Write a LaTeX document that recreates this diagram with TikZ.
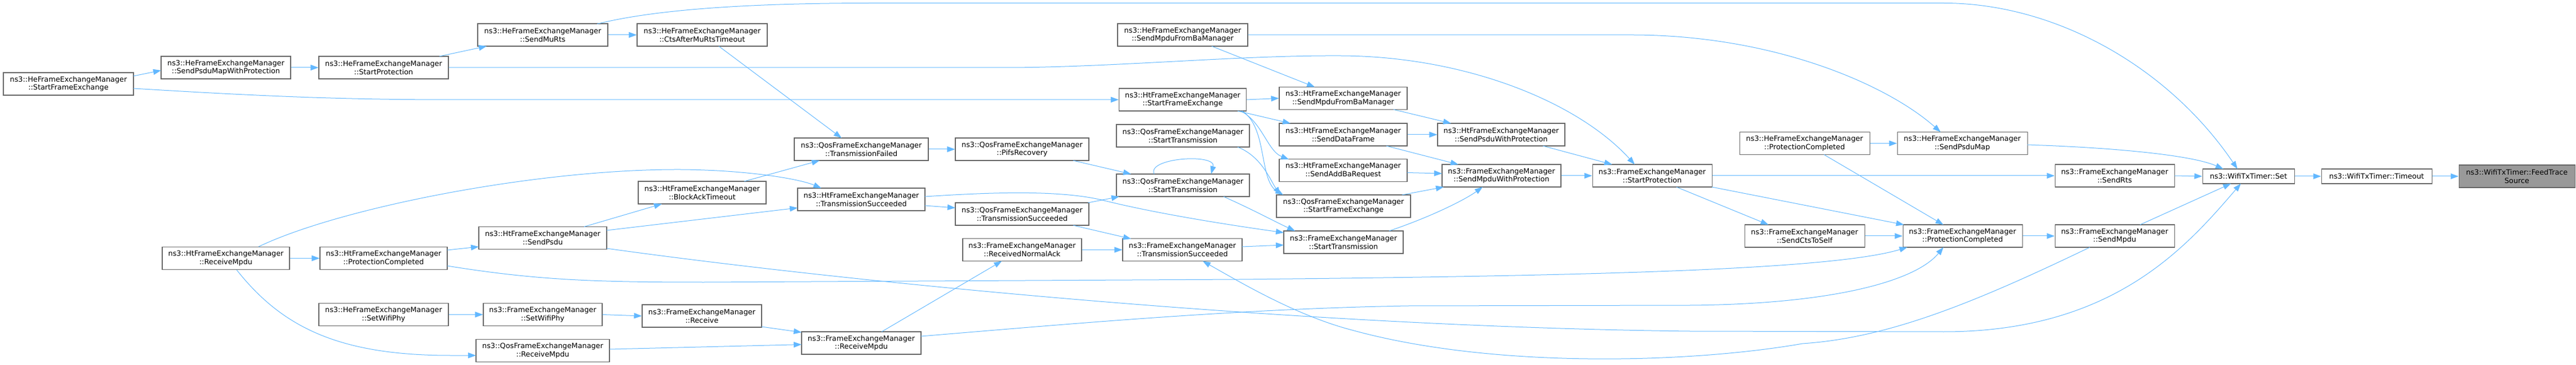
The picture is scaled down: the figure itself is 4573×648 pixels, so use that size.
\documentclass[tikz,border=0pt]{standalone}
\usepackage{fontspec}
\setmainfont{DejaVu Sans}
\usetikzlibrary{arrows.meta,calc}
\definecolor{edgec}{HTML}{63B8FF}
\definecolor{boxc}{HTML}{666666}
\definecolor{hic}{HTML}{999999}
\tikzset{
  box/.style={draw=boxc, fill=white, line width=0.8pt, inner sep=1pt,
    minimum height=30pt, align=center, font=\fontsize{9.6pt}{11.2pt}\selectfont},
  one/.style={minimum height=19.5pt},
  bw/.style={minimum width=#1*0.75pt},
  e/.style={draw=edgec, line width=0.75pt, -{Triangle[length=10.5pt,width=7.5pt]}},
}
\begin{document}
\begin{tikzpicture}[x=0.75pt,y=-0.75pt]
\useasboundingbox (0,0) rectangle (4573,648);
% nodes
\node[box,bw=231] (heSFE) at (121.5,149) {ns3::HeFrameExchangeManager\\::StartFrameExchange};
\node[box,bw=230] (heSPMWP) at (401,120) {ns3::HeFrameExchangeManager\\::SendPsduMapWithProtection};
\node[box,bw=226] (htRM) at (401,458.5) {ns3::HtFrameExchangeManager\\::ReceiveMpdu};
\node[box,bw=230] (heSP) at (681,120) {ns3::HeFrameExchangeManager\\::StartProtection};
\node[box,bw=226] (htPC) at (681,458.5) {ns3::HtFrameExchangeManager\\::ProtectionCompleted};
\node[box,bw=230] (heSWP) at (681,558.5) {ns3::HeFrameExchangeManager\\::SetWifiPhy};
\node[box,bw=231] (heSMR) at (963.5,62) {ns3::HeFrameExchangeManager\\::SendMuRts};
\node[box,bw=227] (htSP) at (963.5,422.5) {ns3::HtFrameExchangeManager\\::SendPsdu};
\node[box,bw=211] (femSWP) at (963.5,558.5) {ns3::FrameExchangeManager\\::SetWifiPhy};
\node[box,bw=237] (qosRM) at (963.5,622.5) {ns3::QosFrameExchangeManager\\::ReceiveMpdu};
\node[box,bw=231] (heCAMRT) at (1246.5,62) {ns3::HeFrameExchangeManager\\::CtsAfterMuRtsTimeout};
\node[box,bw=227] (htBAT) at (1246.5,342) {ns3::HtFrameExchangeManager\\::BlockAckTimeout};
\node[box,bw=212] (femR) at (1246,561) {ns3::FrameExchangeManager\\::Receive};
\node[box,bw=238] (qosTF) at (1529,265) {ns3::QosFrameExchangeManager\\::TransmissionFailed};
\node[box,bw=226] (htTS) at (1529,354) {ns3::HtFrameExchangeManager\\::TransmissionSucceeded};
\node[box,bw=212] (femRM) at (1529,609) {ns3::FrameExchangeManager\\::ReceiveMpdu};
\node[box,bw=237] (qosPR) at (1814.5,265) {ns3::QosFrameExchangeManager\\::PifsRecovery};
\node[box,bw=237] (qosTS) at (1814.5,380) {ns3::QosFrameExchangeManager\\::TransmissionSucceeded};
\node[box,bw=211] (femRNA) at (1814.5,443.5) {ns3::FrameExchangeManager\\::ReceivedNormalAck};
\node[box,bw=231] (heSMFBM) at (2099.5,62) {ns3::HeFrameExchangeManager\\::SendMpduFromBaManager};
\node[box,bw=226] (htSFE) at (2099.5,177) {ns3::HtFrameExchangeManager\\::StartFrameExchange};
\node[box,bw=236] (qosST1) at (2100,241) {ns3::QosFrameExchangeManager\\::StartTransmission};
\node[box,bw=236] (qosST2) at (2100,329) {ns3::QosFrameExchangeManager\\::StartTransmission};
\node[box,bw=212] (femTS) at (2099,443.5) {ns3::FrameExchangeManager\\::TransmissionSucceeded};
\node[box,bw=227] (htSMFBM) at (2384.5,174.5) {ns3::HtFrameExchangeManager\\::SendMpduFromBaManager};
\node[box,bw=227] (htSDF) at (2384.5,239) {ns3::HtFrameExchangeManager\\::SendDataFrame};
\node[box,bw=227] (htSABR) at (2384.5,302.5) {ns3::HtFrameExchangeManager\\::SendAddBaRequest};
\node[box,bw=238] (qosSFE) at (2385,366) {ns3::QosFrameExchangeManager\\::StartFrameExchange};
\node[box,bw=212] (femST) at (2385,430) {ns3::FrameExchangeManager\\::StartTransmission};
\node[box,bw=226] (htSPWP) at (2665,239) {ns3::HtFrameExchangeManager\\::SendPsduWithProtection};
\node[box,bw=211] (femSMWP) at (2665.5,312) {ns3::FrameExchangeManager\\::SendMpduWithProtection};
\node[box,bw=212] (femSP) at (2933,312) {ns3::FrameExchangeManager\\::StartProtection};
\node[box,bw=231] (hePC) at (3203.5,254.5) {ns3::HeFrameExchangeManager\\::ProtectionCompleted};
\node[box,bw=213] (femSCTS) at (3203.5,419) {ns3::FrameExchangeManager\\::SendCtsToSelf};
\node[box,bw=231] (heSPM) at (3483.5,254.5) {ns3::HeFrameExchangeManager\\::SendPsduMap};
\node[box,bw=212] (femPC) at (3484,419) {ns3::FrameExchangeManager\\::ProtectionCompleted};
\node[box,bw=212] (femSR) at (3754,312) {ns3::FrameExchangeManager\\::SendRts};
\node[box,bw=212] (femSM) at (3754,419) {ns3::FrameExchangeManager\\::SendMpdu};
\node[box,one,bw=163] (set) at (3991.5,313) {ns3::WifiTxTimer::Set};
\node[box,one,bw=196] (tmo) at (4219,313) {ns3::WifiTxTimer::Timeout};
\node[box,bw=206,fill=hic] (feed) at (4468,313) {ns3::WifiTxTimer::FeedTrace\\Source};
% edges
\draw[e] ([shift={(115.5,-14)}]heSFE.center) -- ([shift={(-115,5)}]heSPMWP.center);
\draw[e] ([shift={(115.5,8)}]heSFE.center) .. controls (450,170) and (600,177) .. (800,177) -- (htSFE.west);
\draw[e] (heSPMWP.east) -- (heSP.west);
\draw[e] ([shift={(99,-20)}]heSP.center) -- ([shift={(-99.5,20)}]heSMR.center);
\draw[e] (heSP.east) -- (1800,120) .. controls (2000,118) and (2200,98) .. (2380,99) .. controls (2600,100) and (2800,180) .. ([shift={(-31,-20)}]femSP.center);
\draw[e] (heSMR.east) -- (heCAMRT.west);
\draw[e] ([shift={(96.5,-19.5)}]heSMR.center) .. controls (1150,20) and (1300,5.5) .. (1550,5.5) -- (3450,5.5) .. controls (3650,5.5) and (3850,120) .. ([shift={(-19.5,-13)}]set.center);
\draw[e] ([shift={(29.5,20)}]heCAMRT.center) -- ([shift={(-35,-20)}]qosTF.center);
\draw[e] ([shift={(74.5,-20)}]htBAT.center) -- ([shift={(-74,20)}]qosTF.center);
\draw[e] ([shift={(73.5,-20)}]htSP.center) -- ([shift={(-71.5,20)}]htBAT.center);
\draw[e] ([shift={(113.5,-13.5)}]htSP.center) -- ([shift={(-113,15)}]htTS.center);
\draw[e] ([shift={(113.5,18.5)}]htSP.center) .. controls (1500,500) and (2300,580) .. (3000,588) -- (3450,589) .. controls (3750,589) and (3880,440) .. ([shift={(-13.5,13)}]set.center);
\draw[e] (htRM.east) -- (htPC.west);
\draw[e] ([shift={(58,-20.5)}]htRM.center) .. controls (600,370) and (950,300) .. (1208,301) .. controls (1330,302) and (1420,318) .. ([shift={(-71,-20)}]htTS.center);
\draw[e] ([shift={(19,20.5)}]htRM.center) .. controls (500,580) and (600,631) .. (800,631) -- ([shift={(-118.5,8.5)}]qosRM.center);
\draw[e] ([shift={(113,-14.5)}]htPC.center) -- ([shift={(-113.5,15.5)}]htSP.center);
\draw[e] ([shift={(113,13.5)}]htPC.center) .. controls (950,497) and (1050,501) .. (1250,501) -- (2200,496) .. controls (2800,490) and (3250,480) .. ([shift={(-98,20)}]femPC.center);
\draw[e] (heSWP.east) -- (femSWP.west);
\draw[e] (femSWP.east) -- (femR.west);
\draw[e] ([shift={(106,19)}]femR.center) -- ([shift={(-106,-19)}]femRM.center);
\draw[e] ([shift={(118.5,-2.5)}]qosRM.center) -- ([shift={(-106,2.6)}]femRM.center);
\draw[e] ([shift={(36,-20)}]femRM.center) -- ([shift={(-36,20)}]femRNA.center);
\draw[e] ([shift={(106,-12)}]femRM.center) .. controls (1900,575) and (2200,548) .. (2500,543) -- (3000,542) .. controls (3250,540) and (3400,500) .. ([shift={(-34,20)}]femPC.center);
\draw[e] (qosTF.east) -- (qosPR.west);
\draw[e] ([shift={(113,11)}]htTS.center) -- ([shift={(-118.5,-11)}]qosTS.center);
\draw[e] ([shift={(113,-5)}]htTS.center) .. controls (1750,342) and (1880,336) .. (1960,356) .. controls (2060,381) and (2200,402) .. ([shift={(-106,-17)}]femST.center);
\draw[e] ([shift={(90.5,20)}]qosPR.center) -- ([shift={(-92,-20)}]qosST2.center);
\draw[e] ([shift={(117,-20)}]qosTS.center) -- ([shift={(-113,20)}]qosST2.center);
\draw[e] ([shift={(90.5,20)}]qosTS.center) -- ([shift={(-91,-19.5)}]femTS.center);
\draw[e] (femRNA.east) -- (femTS.west);
\draw[e] ([shift={(-51,-20)}]qosST2.center) .. controls (2035,280) and (2160,272) .. ([shift={(50,-20)}]qosST2.center);
\draw[e] ([shift={(72,20)}]qosST2.center) .. controls (2230,375) and (2260,392) .. ([shift={(-86,-20)}]femST.center);
\draw[e] ([shift={(106,-5.5)}]femTS.center) -- ([shift={(-106,5)}]femST.center);
\draw[e] ([shift={(97,20)}]qosST1.center) .. controls (2240,278) and (2255,320) .. ([shift={(-112,-20)}]qosSFE.center);
\draw[e] (htSFE.east) -- (htSMFBM.west);
\draw[e] ([shift={(97.5,20)}]htSFE.center) -- ([shift={(-93.5,-20)}]htSDF.center);
\draw[e] ([shift={(102.5,20)}]htSFE.center) .. controls (2240,215) and (2250,268) .. ([shift={(-96.5,-19.5)}]htSABR.center);
\draw[e] ([shift={(105.5,20)}]htSFE.center) .. controls (2250,225) and (2235,320) .. ([shift={(-107,-20)}]qosSFE.center);
\draw[e] ([shift={(51.5,20)}]heSMFBM.center) -- ([shift={(-50.5,-20)}]htSMFBM.center);
\draw[e] (heSMFBM.east) -- (2900,62) .. controls (3150,63) and (3350,150) .. ([shift={(-38.5,-20)}]heSPM.center);
\draw[e] ([shift={(89.5,20)}]htSMFBM.center) -- ([shift={(-89,-20)}]htSPWP.center);
\draw[e] (htSDF.east) -- (htSPWP.west);
\draw[e] ([shift={(76.5,20)}]htSDF.center) -- ([shift={(-76.5,-20)}]femSMWP.center);
\draw[e] ([shift={(113.5,4)}]htSABR.center) -- ([shift={(-105.5,-4)}]femSMWP.center);
\draw[e] ([shift={(104,-20)}]qosSFE.center) -- ([shift={(-102.5,20)}]femSMWP.center);
\draw[e] ([shift={(81,-20)}]femST.center) .. controls (2540,385) and (2600,355) .. ([shift={(-33.5,20)}]femSMWP.center);
\draw[e] ([shift={(74,20)}]htSPWP.center) -- ([shift={(-71,-20)}]femSP.center);
\draw[e] (femSMWP.east) -- (femSP.west);
\draw[e] (femSP.east) -- (femSR.west);
\draw[e] ([shift={(43,20)}]femSP.center) -- ([shift={(-64,-20)}]femSCTS.center);
\draw[e] ([shift={(106,20)}]femSP.center) -- ([shift={(-104,-20)}]femPC.center);
\draw[e] (hePC.east) -- (heSPM.west);
\draw[e] ([shift={(34.5,20)}]hePC.center) -- ([shift={(-34,-20)}]femPC.center);
\draw[e] (femSCTS.east) -- (femPC.west);
\draw[e] (femPC.east) -- (femSM.west);
\draw[e] ([shift={(115.5,2.5)}]heSPM.center) .. controls (3750,262) and (3890,275) .. ([shift={(-44.5,-13)}]set.center);
\draw[e] (femSR.east) -- (set.west);
\draw[e] ([shift={(45,-20)}]femSM.center) -- ([shift={(-31,13)}]set.center);
\draw[e] ([shift={(-44,20)}]femSM.center) .. controls (3500,540) and (3350,600) .. (3200,610) .. controls (3000,645) and (2650,655) .. (2400,586) .. controls (2300,560) and (2200,500) .. ([shift={(36,20)}]femTS.center);
\draw[e] (set.east) -- (tmo.west);
\draw[e] (tmo.east) -- (feed.west);
\end{tikzpicture}
\end{document}
